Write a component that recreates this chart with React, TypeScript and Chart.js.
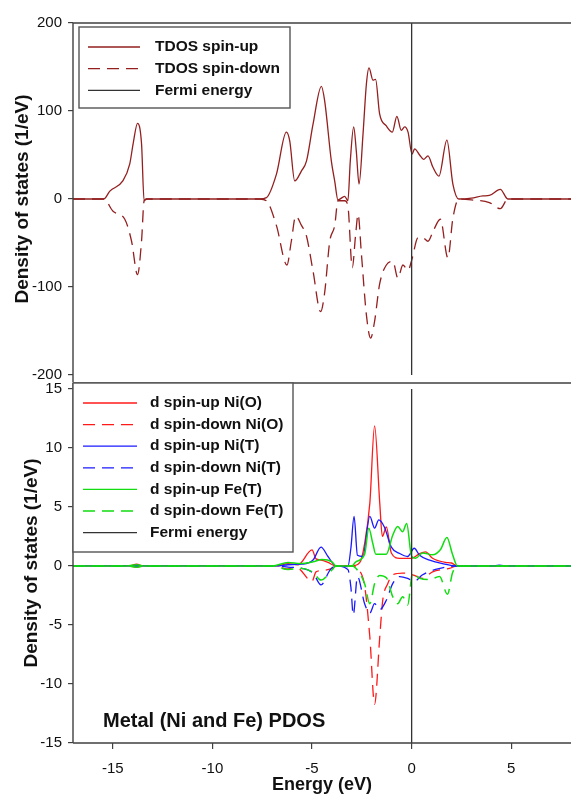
import React, { useEffect, useRef } from "react";
import { Chart, registerables } from "chart.js";
Chart.register(...registerables);

const FONT = "'Liberation Sans', Arial, Helvetica, sans-serif";
const AXIS_COLOR = "#404040";
const TEXT_COLOR = "#111111";
const TDOS_COLOR = "#931f1f";
const RED = "#ff1a1a";
const BLUE = "#1a1aff";
const GREEN = "#11dd11";
const FERMI_COLOR = "#333333";

const energyMin = -17;
const energyMax = 8;
const xTickValues = [-15, -10, -5, 0, 5];
const topYTickValues = [-200, -100, 0, 100, 200];
const bottomYTickValues = [-15, -10, -5, 0, 5, 10, 15];

// [energy (eV), DOS (1/eV)]
const tdosUp = [
  [-17, 0], [-15.45, 0], [-15.15, 9], [-14.5, 20.5], [-14.15, 40], [-13.98, 63], [-13.76, 86], [-13.56, 63],
  [-13.43, -2], [-13.3, 0], [-7.63, 0], [-7.29, 1.5], [-6.79, 28], [-6.29, 76], [-6.12, 66], [-5.87, 20.5],
  [-5.53, 32], [-5.28, 43], [-4.95, 85], [-4.53, 128], [-4.37, 112], [-4.03, 43], [-3.86, 20], [-3.7, -1],
  [-3.36, 3], [-3.2, -2], [-3.08, 43], [-2.91, 82], [-2.78, 55], [-2.64, 17], [-2.44, 74], [-2.27, 131],
  [-2.14, 149], [-1.94, 135], [-1.81, 136], [-1.61, 97], [-1.27, 83], [-0.97, 76], [-0.74, 94], [-0.52, 78],
  [-0.35, 82], [-0.18, 76], [0.02, 51], [0.15, 57], [0.4, 50], [0.6, 45], [0.82, 49], [1.07, 36], [1.37, 26],
  [1.77, 67], [2.07, 17], [2.37, 0], [3.0, 1], [3.58, 3.5], [3.9, 4], [4.45, 11], [4.83, 0], [8, 0],
];
const tdosDown = [
  [-17, 0], [-15.45, 0], [-14.99, -14], [-14.4, -23], [-14.06, -48], [-13.76, -86], [-13.56, -48], [-13.43, -2],
  [-13.3, 0], [-7.63, 0], [-7.29, -2], [-6.79, -30], [-6.26, -75], [-6.04, -48], [-5.82, -19.5], [-5.53, -30],
  [-5.28, -42], [-4.95, -82], [-4.57, -128], [-4.37, -107], [-4.11, -48], [-3.86, -30], [-3.7, -2], [-3.36, -2],
  [-3.2, -8], [-2.98, -78], [-2.81, -40], [-2.69, -17.5], [-2.52, -63], [-2.27, -132], [-2.06, -158],
  [-1.86, -139], [-1.61, -97], [-1.27, -75], [-0.94, -71], [-0.69, -90], [-0.44, -75], [-0.18, -81], [0.02, -68],
  [0.32, -44], [0.57, -44], [0.82, -48], [1.07, -37], [1.44, -23], [1.82, -67], [2.07, -22], [2.37, 0],
  [3.0, -1], [3.9, -4], [4.45, -11], [4.83, 0], [8, 0],
];

const niOUp = [
  [-17, 0], [-14.2, 0], [-13.8, 0.15], [-13.5, 0], [-6.8, 0], [-6.2, 0.2], [-5.7, 0.1], [-5.0, 1.36], [-4.8, 0.6],
  [-4.55, 0.5], [-4.2, 0.3], [-3.8, 0], [-3.0, 0], [-2.6, 0.3], [-2.36, 1.9], [-2.1, 5.3], [-1.86, 11.86],
  [-1.6, 5.3], [-1.47, 2.5], [-1.27, 3.3], [-1.02, 1.1], [-0.6, 0.65], [0, 0.65], [0.4, 1.05], [0.7, 1.2],
  [1.05, 0.65], [1.7, 0.3], [2.0, 0.25], [2.3, 0], [8, 0],
];
const niODown = [
  [-17, 0], [-14.2, 0], [-13.8, -0.1], [-13.5, 0], [-6.8, 0], [-6.3, -0.25], [-5.8, -0.1], [-5.0, -1.3],
  [-4.8, -0.5], [-4.5, -0.4], [-4.0, -0.2], [-3.8, 0], [-3.0, 0], [-2.7, -0.25], [-2.36, -1.7], [-2.1, -6],
  [-1.86, -11.7], [-1.6, -6], [-1.45, -2.9], [-1.2, -1.5], [-0.95, -0.75], [-0.45, -0.6], [0.05, -0.75],
  [0.55, -1.05], [1.05, -0.5], [1.9, -0.2], [2.3, 0], [8, 0],
];
const niTUp = [
  [-17, 0], [-6.8, 0], [-6.2, 0.1], [-5.5, 0.15], [-4.95, 0.5], [-4.55, 1.6], [-4.2, 0.8], [-3.8, 0],
  [-3.2, -0.05], [-3.05, 1.5], [-2.89, 4.2], [-2.72, 0.9], [-2.45, 0.8], [-2.1, 4.2], [-1.86, 3.2],
  [-1.65, 3.9], [-1.37, 3.3], [-1.02, 1.6], [-0.6, 1.05], [-0.2, 0.8], [0.13, 1.5], [0.4, 0.9], [0.9, 0.5],
  [1.55, 0.2], [2.3, 0], [4.0, 0], [4.4, 0.06], [4.8, 0], [8, 0],
];
const niTDown = [
  [-17, 0], [-6.8, 0], [-6.2, -0.1], [-5.5, -0.2], [-4.95, -0.6], [-4.55, -1.6], [-4.1, -0.35], [-3.8, 0],
  [-3.2, -0.3], [-3.05, -1.8], [-2.93, -4.15], [-2.72, -0.9], [-2.36, -3.2], [-2.1, -4.0], [-1.86, -3.2],
  [-1.6, -3.7], [-1.27, -2.9], [-0.95, -1.5], [-0.6, -0.9], [-0.2, -1.05], [0.13, -1.3], [0.55, -0.75],
  [1.2, -0.3], [2.3, 0], [8, 0],
];
const feTUp = [
  [-17, 0], [-14.3, 0], [-13.8, 0.1], [-13.4, 0], [-7.0, 0], [-6.2, 0.3], [-5.6, 0.2], [-4.95, 0.35],
  [-4.5, 0.55], [-4.0, 0.35], [-3.8, 0], [-3.0, 0], [-2.8, 0.35], [-2.36, 1.0], [-2.15, 3.2], [-1.95, 1.9],
  [-1.8, 1.0], [-1.27, 1.0], [-0.95, 2.6], [-0.7, 3.35], [-0.45, 2.9], [-0.25, 3.6], [0, 0.8], [0.2, 0.65],
  [0.55, 1.1], [1.05, 0.95], [1.45, 1.4], [1.77, 2.4], [2.05, 1.0], [2.3, 0], [8, 0],
];
const feTDown = [
  [-17, 0], [-14.3, 0], [-13.8, -0.1], [-13.4, 0], [-7.0, 0], [-6.2, -0.3], [-5.6, -0.2], [-4.95, -0.55],
  [-4.55, -1.2], [-4.0, -0.35], [-3.8, 0], [-3.0, 0], [-2.8, -0.2], [-2.36, -1.5], [-2.1, -3.2], [-1.86, -1.5],
  [-1.6, -0.8], [-1.27, -1.0], [-0.95, -2.6], [-0.7, -3.2], [-0.45, -2.6], [-0.2, -3.3], [0.05, -0.6],
  [0.4, -1.05], [0.9, -1.15], [1.4, -0.9], [1.8, -2.4], [2.05, -0.6], [2.3, 0], [8, 0],
];

const fermiEnergy = 0;
const topLegendLabels = ["TDOS spin-up", "TDOS spin-down", "Fermi energy"];
const bottomLegendLabels = [
  "d spin-up Ni(O)", "d spin-down Ni(O)", "d spin-up Ni(T)", "d spin-down Ni(T)",
  "d spin-up Fe(T)", "d spin-down Fe(T)", "Fermi energy",
];
const panelLabel = "Metal (Ni and Fe) PDOS";
const yTitle = "Density of states (1/eV)";
const xTitle = "Energy (eV)";

const DASH = [12, 7];

function toXY(pairs: number[][]) {
  return pairs.map(([x, y]) => ({ x, y }));
}

function series(pairs: number[][], color: string, dashed: boolean, width = 1.3) {
  return {
    data: toXY(pairs),
    borderColor: color,
    borderWidth: width,
    borderDash: dashed ? DASH : [],
    pointRadius: 0,
    fill: false,
    cubicInterpolationMode: "monotone",
  };
}

const decorPlugin = {
  id: "decor",
  afterDraw(chart: any, _args: any, opts: any) {
    const { ctx, chartArea: ca } = chart;
    ctx.save();
    ctx.strokeStyle = AXIS_COLOR;
    ctx.lineWidth = 1.4;
    ctx.setLineDash([]);
    ctx.beginPath();
    ctx.moveTo(ca.left, ca.top);
    ctx.lineTo(chart.width, ca.top);
    ctx.moveTo(ca.left, ca.top);
    ctx.lineTo(ca.left, ca.bottom + (opts.leftExtend || 0));
    if (opts.bottomLine) {
      ctx.moveTo(ca.left, ca.bottom);
      ctx.lineTo(chart.width, ca.bottom);
    }
    ctx.stroke();

    const lg = opts.legend;
    if (lg) {
      const bx = ca.left + lg.dx;
      const by = ca.top + lg.dy;
      ctx.fillStyle = "#ffffff";
      ctx.fillRect(bx, by, lg.w, lg.h);
      ctx.strokeStyle = "#555555";
      ctx.lineWidth = 1.4;
      ctx.strokeRect(bx, by, lg.w, lg.h);
      ctx.font = `bold 15.5px ${FONT}`;
      ctx.textBaseline = "middle";
      ctx.textAlign = "left";
      lg.items.forEach((it: any, i: number) => {
        const y = by + lg.firstRow + i * lg.rowGap;
        ctx.beginPath();
        ctx.strokeStyle = it.color;
        ctx.lineWidth = 1.3;
        ctx.setLineDash(it.dashed ? DASH : []);
        ctx.moveTo(bx + lg.lineX0, y);
        ctx.lineTo(bx + lg.lineX1, y);
        ctx.stroke();
        ctx.setLineDash([]);
        ctx.fillStyle = TEXT_COLOR;
        ctx.fillText(it.label, bx + lg.textX, y);
      });
    }
    if (opts.label) {
      ctx.font = `bold 20px ${FONT}`;
      ctx.fillStyle = TEXT_COLOR;
      ctx.textBaseline = "middle";
      ctx.textAlign = "left";
      ctx.fillText(opts.label.text, ca.left + opts.label.dx, ca.bottom + opts.label.dy);
    }
    ctx.restore();
  },
};

function yScale(min: number, max: number, ticks: number[], titlePad: number) {
  return {
    type: "linear",
    min,
    max,
    afterBuildTicks: (s: any) => {
      s.ticks = ticks.map((v) => ({ value: v }));
    },
    afterFit: (s: any) => {
      s.width = 73;
      s.paddingTop = 0;
      s.paddingBottom = 0;
    },
    ticks: {
      color: TEXT_COLOR,
      font: { family: FONT, size: 15 },
      padding: 6,
    },
    grid: {
      display: true,
      drawOnChartArea: false,
      drawTicks: true,
      tickLength: 5,
      color: AXIS_COLOR,
      lineWidth: 1.2,
    },
    border: { display: false },
    title: {
      display: true,
      text: yTitle,
      color: TEXT_COLOR,
      font: { family: FONT, size: 19, weight: "bold", lineHeight: 1.0 },
      padding: { top: titlePad, bottom: 0 },
    },
  };
}

function topConfig(): any {
  return {
    type: "line",
    data: {
      datasets: [
        series([[fermiEnergy, -200], [fermiEnergy, 200]], FERMI_COLOR, false),
        series(tdosUp, TDOS_COLOR, false),
        series(tdosDown, TDOS_COLOR, true),
      ],
    },
    options: {
      responsive: false,
      animation: false,
      devicePixelRatio: 1,
      layout: { padding: { top: 23, bottom: 7, left: 0, right: 0 } },
      plugins: {
        legend: { display: false },
        tooltip: { enabled: false },
        decor: {
          leftExtend: 10,
          legend: {
            dx: 6, dy: 4, w: 211, h: 81, firstRow: 20, rowGap: 21.7,
            lineX0: 9, lineX1: 61, textX: 76,
            items: [
              { label: topLegendLabels[0], color: TDOS_COLOR, dashed: false },
              { label: topLegendLabels[1], color: TDOS_COLOR, dashed: true },
              { label: topLegendLabels[2], color: FERMI_COLOR, dashed: false },
            ],
          },
        },
      },
      scales: {
        x: { type: "linear", min: energyMin, max: energyMax, display: false },
        y: yScale(-200, 200, topYTickValues, 13),
      },
    },
    plugins: [decorPlugin],
  };
}

function bottomConfig(): any {
  const colors = [RED, RED, BLUE, BLUE, GREEN, GREEN, FERMI_COLOR];
  return {
    type: "line",
    data: {
      datasets: [
        series([[fermiEnergy, -15], [fermiEnergy, 15]], FERMI_COLOR, false),
        series(feTUp, GREEN, false, 1.5),
        series(feTDown, GREEN, true, 1.5),
        series(niTUp, BLUE, false),
        series(niTDown, BLUE, true),
        series(niOUp, RED, false),
        series(niODown, RED, true),
      ],
    },
    options: {
      responsive: false,
      animation: false,
      devicePixelRatio: 1,
      layout: { padding: { top: 3, bottom: 0, left: 0, right: 0 } },
      plugins: {
        legend: { display: false },
        tooltip: { enabled: false },
        decor: {
          bottomLine: true,
          legend: {
            dx: 0, dy: 0, w: 220, h: 169, firstRow: 20, rowGap: 21.6,
            lineX0: 10, lineX1: 64, textX: 77,
            items: bottomLegendLabels.map((label, i) => ({
              label,
              color: colors[i],
              dashed: i < 6 && i % 2 === 1,
            })),
          },
          label: { text: panelLabel, dx: 30, dy: -22 },
        },
      },
      scales: {
        x: {
          type: "linear",
          min: energyMin,
          max: energyMax,
          afterBuildTicks: (s: any) => {
            s.ticks = xTickValues.map((v) => ({ value: v }));
          },
          afterFit: (s: any) => {
            s.height = 51;
          },
          ticks: {
            color: TEXT_COLOR,
            font: { family: FONT, size: 15 },
            padding: 11,
            maxRotation: 0,
          },
          grid: {
            display: true,
            drawOnChartArea: false,
            drawTicks: true,
            tickLength: 6,
            color: AXIS_COLOR,
            lineWidth: 1.2,
          },
          border: { display: false },
          title: {
            display: true,
            text: xTitle,
            color: TEXT_COLOR,
            font: { family: FONT, size: 18, weight: "bold", lineHeight: 1.0 },
            padding: { top: 0, bottom: 0 },
          },
        },
        y: yScale(-15, 15.5, bottomYTickValues, 22),
      },
    },
    plugins: [decorPlugin],
  };
}

export default function App() {
  const topRef = useRef<HTMLCanvasElement>(null);
  const botRef = useRef<HTMLCanvasElement>(null);
  useEffect(() => {
    const c1 = new Chart(topRef.current as HTMLCanvasElement, topConfig());
    const c2 = new Chart(botRef.current as HTMLCanvasElement, bottomConfig());
    return () => {
      c1.destroy();
      c2.destroy();
    };
  }, []);
  return (
    <div
      style={{
        position: "absolute",
        left: 0,
        top: 0,
        width: 571,
        height: 794,
        overflow: "hidden",
        background: "#ffffff",
      }}
    >
      <canvas ref={topRef} width={571} height={382} style={{ position: "absolute", left: 0, top: 0 }} />
      <canvas ref={botRef} width={571} height={414} style={{ position: "absolute", left: 0, top: 380 }} />
    </div>
  );
}
